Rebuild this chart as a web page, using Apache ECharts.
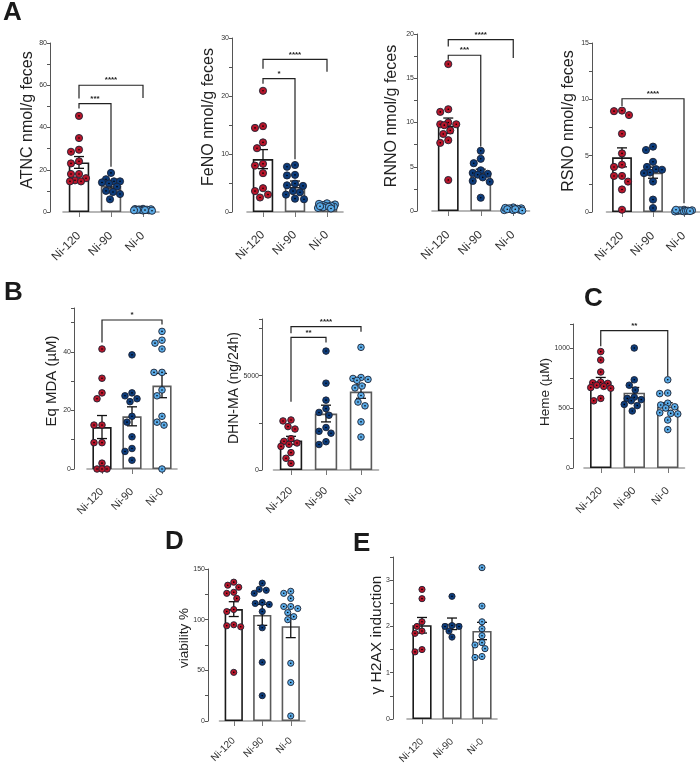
<!DOCTYPE html>
<html><head><meta charset="utf-8">
<script src="https://cdn.jsdelivr.net/npm/echarts@6/dist/echarts.min.js"></script>
<style>html,body{margin:0;padding:0;background:#fff}#c{width:700px;height:770px}</style>
</head><body><div id="c"></div>
<script>
const categories = ['Ni-120', 'Ni-90', 'Ni-0'];
const groupColors = ['#b8152a', '#0c3c7c', '#5aaae6'];

// Panel A – ATNC
const atncValues = [
  [45.5, 35, 29.5, 28.5, 24, 23, 18, 18, 16, 15, 14.5, 14.5],
  [18.5, 15.5, 14.5, 14.5, 14, 13.5, 12, 10, 9.5, 8.5, 6],
  [1.5, 1.2, 1.0, 0.8, 1.3, 0.7, 1.1, 0.9, 1.4, 0.6, 1.0, 0.8]
];
const atncTicks = [0, 20, 40, 60, 80];
const atncBrackets = [[0, 2, 60, 53.7, 54, '****'], [0, 1, 51.3, 49, 21.4, '***']];

// Panel A – FeNO
const fenoValues = [
  [20.9, 14.8, 14.5, 12, 11, 8.3, 8, 6.7, 4.1, 3.6, 3, 2.5],
  [8.1, 7.8, 6.4, 6.3, 4.9, 4.6, 4.5, 3.6, 3.4, 3, 2.3, 2.2],
  [1.5, 1.3, 1.2, 1.0, 0.9, 0.8, 1.1, 0.7, 1.4, 0.9, 1.0, 0.6]
];
const fenoTicks = [0, 10, 20, 30];
const fenoBrackets = [[0, 2, 26.3, 24.7, 24.2, '****'], [0, 1, 23, 22.1, 9.1, '*']];

// Panel A – RNNO
const rnnoValues = [
  [16.6, 11.5, 11.2, 10, 9.8, 9.8, 9.7, 9.1, 8.7, 8.0, 7.7, 3.5],
  [6.8, 5.9, 5.4, 4.6, 4.3, 4.2, 4.1, 3.8, 3.4, 3.3, 1.5],
  [0.4, 0.3, 0.2, 0.1, 0.35, 0.15, 0.25, 0.05, 0.3, 0.2, 0.1, 0.2]
];
const rnnoTicks = [0, 5, 10, 15, 20];
const rnnoBrackets = [[0, 2, 19.36, 18.6, 17.3, '****'], [0, 1, 17.6, 17.1, 7.3, '***']];

// Panel A – RSNO
const rsnoValues = [
  [9.0, 8.95, 8.6, 6.95, 5.2, 4.2, 4.0, 3.2, 3.2, 2.7, 2.0, 0.2],
  [5.8, 5.5, 4.45, 4.0, 3.8, 3.75, 3.5, 3.45, 2.7, 1.1, 0.35],
  [0.15, 0.1, 0.05, 0.2, 0.1, 0.15, 0.05, 0.1, 0.2, 0.12, 0.08]
];
const rsnoTicks = [0, 5, 10, 15];
const rsnoBrackets = [[0, 2, 10.05, 9.4, 0.77, '****']];

// Panel B – Eq MDA
const mdaValues = [
  [41, 31, 26, 24, 15, 15, 9, 9, 2, 0, 0, 0],
  [39, 26, 25, 24, 23, 18, 16, 11, 7, 6, 3],
  [47, 44, 43, 41, 33, 33, 27, 25, 18, 16, 15, 0]
];
const mdaTicks = [0, 20, 40];
const mdaBrackets = [[0, 2, 50.9, 43.2, 49.4, '*']];

// Panel B – DHN-MA
const dhnValues = [
  [2650, 2600, 2300, 2170, 1660, 1520, 1430, 1360, 1250, 920, 620, 350],
  [6300, 4600, 3700, 3250, 3050, 2900, 2250, 2050, 1950, 1500, 1350],
  [6500, 4900, 4850, 4800, 4750, 4450, 4350, 3950, 3600, 3400, 2550, 1750]
];
const dhnTicks = [0, 5000];
const dhnBrackets = [[0, 2, 7600, 7240, 7330, '****'], [0, 1, 7030, 3620, 6750, '**']];

// Panel C – Heme
const hemeValues = [
  [970, 900, 800, 715, 710, 705, 690, 680, 670, 665, 580, 560],
  [1000, 735, 690, 650, 590, 580, 570, 560, 530, 520, 475],
  [735, 625, 620, 540, 525, 510, 500, 460, 455, 450, 400, 320]
];
const hemeTicks = [0, 500, 1000];
const hemeBrackets = [[0, 2, 1144, 1014, 764, '**']];

// Panel D – viability
const viabValues = [
  [137, 134, 132, 127, 126, 121, 110, 108, 95, 94, 93, 48],
  [136, 130, 129, 126, 117, 116, 115, 108, 92, 58, 25],
  [128, 126, 121, 113, 113, 111, 107, 103, 100, 57, 38, 5]
];
const viabTicks = [0, 50, 100, 150];

// Panel E – γH2AX
const h2axValues = [
  [2.8, 2.6, 2.1, 2.0, 1.9, 1.85, 1.5, 1.45],
  [2.65, 2.02, 2.0, 2.0, 1.9, 1.77],
  [3.27, 2.44, 2.1, 1.95, 1.8, 1.65, 1.6, 1.52, 1.35, 1.33]
];
const h2axTicks = [0, 1, 2, 3];

const panels = [
  { values: atncValues, ticks: atncTicks, brackets: atncBrackets, name: 'ATNC nmol/g feces',
    grid: { left: 63, top: 43, width: 96, height: 169 }, yMax: 80, interval: 10, yOff: 13, xOff: 15,
    nameX: 28, nameY: 120, nameSize: 16, catSize: 12, r: 3.6 },
  { values: fenoValues, ticks: fenoTicks, brackets: fenoBrackets, name: 'FeNO nmol/g feces',
    grid: { left: 247, top: 38, width: 96, height: 174 }, yMax: 30, interval: 5, yOff: 15, xOff: 14,
    nameX: 209, nameY: 117, nameSize: 16, catSize: 12, r: 3.6 },
  { values: rnnoValues, ticks: rnnoTicks, brackets: rnnoBrackets, name: 'RNNO nmol/g feces',
    grid: { left: 432, top: 34, width: 97.5, height: 177 }, yMax: 20, interval: 2.5, yOff: 15, xOff: 15,
    nameX: 392, nameY: 116, nameSize: 16, catSize: 12, r: 3.6 },
  { values: rsnoValues, ticks: rsnoTicks, brackets: rsnoBrackets, name: 'RSNO nmol/g feces',
    grid: { left: 606.5, top: 43, width: 93, height: 169 }, yMax: 15, interval: 2.5, yOff: 14.5, xOff: 15,
    nameX: 569, nameY: 121, nameSize: 16, catSize: 12, r: 3.6 },
  { values: mdaValues, ticks: mdaTicks, brackets: mdaBrackets, name: 'Eq MDA (µM)',
    grid: { left: 87, top: 308, width: 90, height: 161 }, yMax: 55, interval: 10, yOff: 13, xOff: 14,
    nameX: 52, nameY: 381, nameSize: 15, catSize: 11, r: 3.3 },
  { values: dhnValues, ticks: dhnTicks, brackets: dhnBrackets, name: 'DHN-MA (ng/24h)',
    grid: { left: 273.5, top: 319, width: 105, height: 151 }, yMax: 8000, interval: 2500, yOff: 11.5, xOff: 12,
    nameX: 234, nameY: 388, nameSize: 14, catSize: 11, r: 3.3 },
  { values: hemeValues, ticks: hemeTicks, brackets: hemeBrackets, name: 'Heme (µM)',
    grid: { left: 584, top: 324, width: 100.5, height: 144 }, yMax: 1200, interval: 250, yOff: 11, xOff: 14,
    nameX: 545, nameY: 392, nameSize: 13.5, catSize: 11, r: 3.3 },
  { values: viabValues, ticks: viabTicks, brackets: [], name: 'viability %',
    grid: { left: 219.5, top: 569, width: 85.5, height: 152 }, yMax: 150, interval: 25, yOff: 11.5, xOff: 11,
    nameX: 184, nameY: 638, nameSize: 13.5, catSize: 10, r: 3.1 },
  { values: h2axValues, ticks: h2axTicks, brackets: [], name: 'γ H2AX induction',
    grid: { left: 407, top: 557, width: 90, height: 162 }, yMax: 3.5, interval: 0.5, yOff: 14, xOff: 14,
    nameX: 377, nameY: 635, nameSize: 15.5, catSize: 10, r: 3.1 }
];

const letters = [
  { t: 'A', x: 3, y: 0 }, { t: 'B', x: 4, y: 280 }, { t: 'C', x: 584, y: 286 },
  { t: 'D', x: 165, y: 529 }, { t: 'E', x: 353, y: 531 }
];

function mean(a) { return a.reduce((s, v) => s + v, 0) / a.length; }
function sem(a) {
  const m = mean(a);
  const sd = Math.sqrt(a.reduce((s, v) => s + (v - m) * (v - m), 0) / (a.length - 1));
  return sd / Math.sqrt(a.length);
}

// deterministic beeswarm offsets in pixels
function swarm(vals, pxPerUnit, r, maxOff) {
  const D = 2 * r + 0.5;
  const order = vals.map((v, i) => i).sort((a, b) => vals[b] - vals[a]);
  const placed = [];
  const off = new Array(vals.length).fill(0);
  const cands = [0];
  for (let k = 1; k <= Math.floor(maxOff); k++) { cands.push(-k, k); }
  order.forEach(i => {
    const y = vals[i] * pxPerUnit;
    let chosen = null, bestScore = -1, bestX = 0;
    for (const c of cands) {
      let md = Infinity;
      for (const p of placed) { md = Math.min(md, Math.hypot(p.x - c, p.y - y)); }
      if (md >= D) { chosen = c; break; }
      if (md > bestScore) { bestScore = md; bestX = c; }
    }
    if (chosen === null) chosen = bestX;
    placed.push({ x: chosen, y });
    off[i] = chosen;
  });
  return off;
}

const grids = [], xAxes = [], yAxes = [], series = [], graphics = [];

panels.forEach((p, gi) => {
  grids.push(Object.assign({ containLabel: false }, p.grid));
  xAxes.push({
    type: 'category', gridIndex: gi, data: categories, offset: p.xOff,
    axisLine: { show: true, lineStyle: { color: '#a0a0a0', width: 1.6 } },
    axisTick: { show: true, alignWithLabel: true, length: 5, lineStyle: { color: '#777', width: 1 } },
    axisLabel: { rotate: 45, fontSize: p.catSize, color: '#333', margin: 7, fontFamily: 'Liberation Sans, Arial, sans-serif' },
    splitLine: { show: false }
  });
  const ticks = p.ticks;
  yAxes.push({
    type: 'value', gridIndex: gi, min: 0, max: p.yMax, interval: p.interval, offset: p.yOff,
    axisLine: { show: true, lineStyle: { color: '#555', width: 1 } },
    axisTick: { show: true, length: 3, lineStyle: { color: '#555', width: 1 } },
    axisLabel: {
      fontSize: 7, color: '#333', margin: 3, fontFamily: 'Liberation Sans, Arial, sans-serif',
      formatter: v => ticks.some(t => Math.abs(t - v) < 1e-9) ? String(v) : ''
    },
    splitLine: { show: false }
  });

  const means = p.values.map(mean);
  const sems = p.values.map(sem);

  series.push({
    type: 'bar', xAxisIndex: gi, yAxisIndex: gi, barWidth: '64%', z: 1,
    data: means.map((m, i) => ({
      value: m,
      itemStyle: { color: '#fff', borderColor: i === 0 ? '#1a1a1a' : '#5a5a5a', borderWidth: 1.6 }
    })),
    silent: true
  });

  series.push({
    type: 'custom', xAxisIndex: gi, yAxisIndex: gi, z: 3,
    encode: { x: 0, y: [1, 2, 3] },
    data: means.map((m, i) => [i, m, m - sems[i], m + sems[i]]),
    renderItem: function (params, api) {
      const i = api.value(0);
      const lo = api.coord([i, api.value(2)]);
      const hi = api.coord([i, api.value(3)]);
      const w = 5;
      const st = { stroke: '#111', lineWidth: 1.3 };
      return {
        type: 'group', children: [
          { type: 'line', shape: { x1: lo[0], y1: lo[1], x2: hi[0], y2: hi[1] }, style: st },
          { type: 'line', shape: { x1: hi[0] - w, y1: hi[1], x2: hi[0] + w, y2: hi[1] }, style: st },
          { type: 'line', shape: { x1: lo[0] - w, y1: lo[1], x2: lo[0] + w, y2: lo[1] }, style: st }
        ]
      };
    }
  });

  const pxPerUnit = p.grid.height / p.yMax;
  const band = p.grid.width / 3;
  p.values.forEach((vals, ci) => {
    const offs = swarm(vals, pxPerUnit, p.r, band * 0.3);
    const color = groupColors[ci];
    const r = p.r;
    series.push({
      type: 'custom', xAxisIndex: gi, yAxisIndex: gi, z: 4,
      encode: { x: 0, y: 1 },
      data: vals.map((v, k) => [ci, v, offs[k]]),
      renderItem: function (params, api) {
        const c = api.coord([api.value(0), api.value(1)]);
        const x = c[0] + api.value(2);
        return {
          type: 'group', children: [
            { type: 'circle', shape: { cx: x, cy: c[1], r: r }, style: { fill: color, stroke: '#1c2233', lineWidth: 0.9 } },
            { type: 'circle', shape: { cx: x, cy: c[1], r: 0.8 }, style: { fill: '#000' } }
          ]
        };
      }
    });
  });

  if (p.brackets.length) {
    const br = p.brackets;
    series.push({
      type: 'custom', xAxisIndex: gi, yAxisIndex: gi, z: 5,
      encode: { x: 0, y: 2 },
      data: br.map(b => [b[0], b[1], b[2], b[3], b[4]]),
      renderItem: function (params, api) {
        const a = api.value(0), b = api.value(1), y = api.value(2);
        const p1 = api.coord([a, api.value(3)]);
        const p2 = api.coord([a, y]);
        const p3 = api.coord([b, y]);
        const p4 = api.coord([b, api.value(4)]);
        return {
          type: 'group', children: [
            { type: 'polyline', shape: { points: [p1, p2, p3, p4] }, style: { stroke: '#222', lineWidth: 1.2, fill: null } },
            { type: 'text', x: (p2[0] + p3[0]) / 2, y: p2[1] - 1,
              style: { text: br[params.dataIndex][5], fontSize: 8, fontWeight: 'bold', fill: '#222', align: 'center', verticalAlign: 'bottom', fontFamily: 'Liberation Sans, Arial, sans-serif' } }
          ]
        };
      }
    });
  }

  graphics.push({
    type: 'text', x: p.nameX, y: p.nameY, rotation: Math.PI / 2,
    style: { text: p.name, fontSize: p.nameSize, fill: '#222', align: 'center', verticalAlign: 'middle', fontFamily: 'Liberation Sans, Arial, sans-serif' }
  });
});

letters.forEach(l => {
  graphics.push({
    type: 'text', x: l.x, y: l.y,
    style: { text: l.t, fontSize: 26, fontWeight: 'bold', fill: '#1a1a1a', align: 'left', verticalAlign: 'top', fontFamily: 'Liberation Sans, Arial, sans-serif' }
  });
});

const chart = echarts.init(document.getElementById('c'), null, { renderer: 'canvas' });
chart.setOption({
  animation: false,
  backgroundColor: '#fff',
  grid: grids, xAxis: xAxes, yAxis: yAxes, series: series, graphic: graphics
});
</script>
</body></html>
